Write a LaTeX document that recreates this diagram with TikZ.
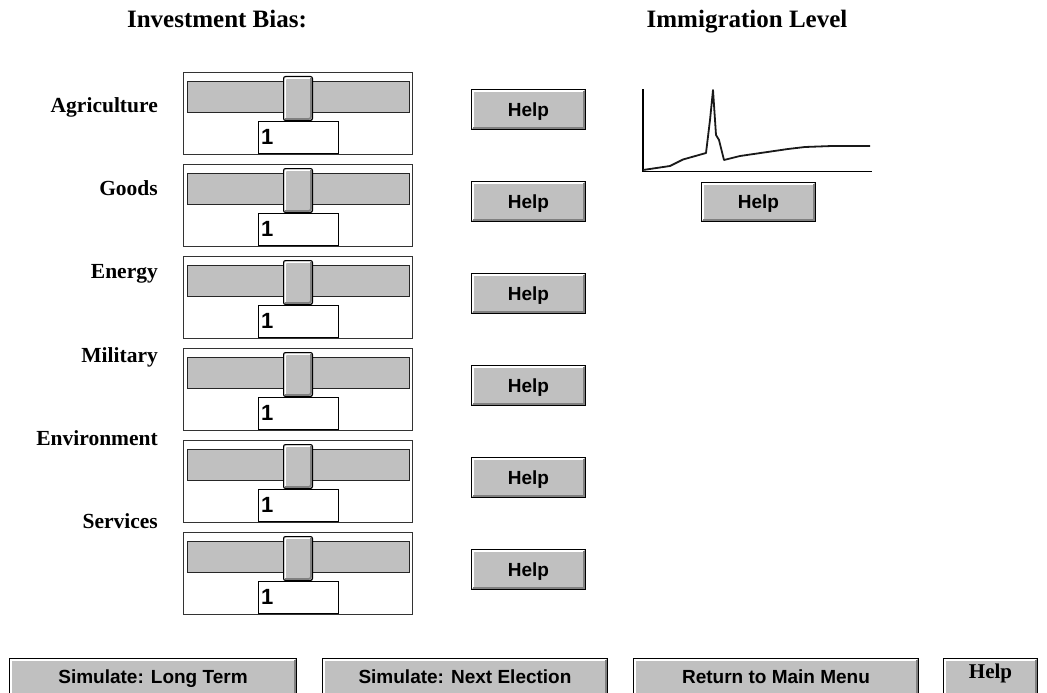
\documentclass[tikz,border=0pt]{standalone}
\usepackage{fontspec}
\newfontfamily\uisans{Liberation Sans}
\newfontfamily\uiserif{Liberation Serif}
\definecolor{wingray}{HTML}{C0C0C0}
\definecolor{winshadow}{HTML}{808080}
\tikzset{
  bevel/.style={path picture={
    \draw[white,line width=1.5pt] ([xshift=1.6pt,yshift=2pt]path picture bounding box.south west) -- ([xshift=1.6pt,yshift=-1.6pt]path picture bounding box.north west) -- ([xshift=-2pt,yshift=-1.6pt]path picture bounding box.north east);
    \draw[winshadow,line width=1.8pt] ([xshift=1.6pt,yshift=1.6pt]path picture bounding box.south west) -- ([xshift=-1.6pt,yshift=1.6pt]path picture bounding box.south east) -- ([xshift=-1.6pt,yshift=-1.6pt]path picture bounding box.north east);
    \draw[black,line width=1pt] (path picture bounding box.south west) -- (path picture bounding box.south east) -- (path picture bounding box.north east);
  }},
  winbtn/.style={draw=black, line width=1pt, fill=wingray, inner sep=0pt, anchor=north west, bevel,
    font=\uisans\bfseries\fontsize{19}{19}\selectfont, text height=13.6pt, text depth=0pt},
  bigbtn/.style={winbtn},
  panelbox/.style={draw=black!80, line width=1pt, fill=white, inner sep=0pt, anchor=north west, minimum width=229pt, minimum height=82pt},
  trackbox/.style={draw=black!85, line width=1pt, fill=wingray, inner sep=0pt, anchor=north west, minimum width=222pt, minimum height=31pt},
  thumbbox/.style={draw=black, line width=1pt, fill=wingray, inner sep=0pt, anchor=north west, rounded corners=2pt, minimum width=29pt, minimum height=44pt, bevel},
  valbox/.style={draw=black, line width=1pt, fill=white, inner sep=0pt, anchor=north west, minimum width=80pt, minimum height=32pt},
  valtext/.style={anchor=west, inner sep=0pt, font=\uisans\bfseries\fontsize{22}{22}\selectfont, text height=15.8pt, text depth=0pt},
  lbl/.style={anchor=base east, inner sep=0pt, font=\uiserif\bfseries\fontsize{21.5}{21.5}\selectfont},
  hdr/.style={anchor=base, inner sep=0pt, font=\uiserif\bfseries\fontsize{25}{25}\selectfont},
  axis/.style={draw=black, line width=1.4pt},
  curve/.style={draw=black!90, line width=1.8pt, line join=round},
}
\begin{document}
\begin{tikzpicture}[x=1pt,y=-1pt]
\useasboundingbox (0,0) rectangle (1047,693);
\clip (0,0) rectangle (1047,693);
% headers
\node[hdr] (hInv) at (217,28) {Investment Bias:};
\node[hdr] (hImm) at (747,28) {Immigration Level};
% sliders
\foreach \i/\name/\bl in {1/Agriculture/112, 2/Goods/195, 3/Energy/278, 4/Military/362, 5/Environment/445, 6/Services/528}{
  \pgfmathsetmacro{\T}{72+92*(\i-1)}
  \node[lbl] (lab\i) at (158,\bl) {\name};
  \node[panelbox] (panel\i) at (183,\T) {};
  \node[trackbox] (track\i) at (187,\T+9) {};
  \node[valbox] (val\i) at (258,\T+49) {};
  \node[valtext] (valt\i) at (261,\T+65) {1};
  \node[thumbbox] (thumb\i) at (283,\T+4) {};
  \node[winbtn, minimum width=114pt, minimum height=40pt] (help\i) at (471,\T+17) {Help};
}
% immigration graph
\coordinate (gtop) at (643,89);
\coordinate (gorig) at (643,171.5);
\coordinate (gend) at (872,171.5);
\draw[axis] (gtop) -- (gorig) -- (gend);
\draw[curve] plot coordinates {(643,170) (670,166) (683,159.5) (706,153) (710,120) (713,90) (716,135) (719,140) (724,160) (740,156) (788,149) (805,147) (832,146) (870,146)};
\node[winbtn, minimum width=114pt, minimum height=39pt] (helpG) at (701,182) {Help};
% bottom buttons
\node[bigbtn, minimum width=287pt, minimum height=37pt] (bLong) at (9,658) {Simulate: Long Term};
\node[bigbtn, minimum width=285pt, minimum height=37pt] (bNext) at (322,658) {Simulate: Next Election};
\node[bigbtn, minimum width=285pt, minimum height=37pt] (bMain) at (633,658) {Return to Main Menu};
\node[winbtn, font=\uiserif\bfseries\fontsize{21}{21}\selectfont, text height=13.9pt, text depth=10pt, minimum width=94pt, minimum height=37pt] (bHelp) at (943,658) {Help};
\end{tikzpicture}
\end{document}
